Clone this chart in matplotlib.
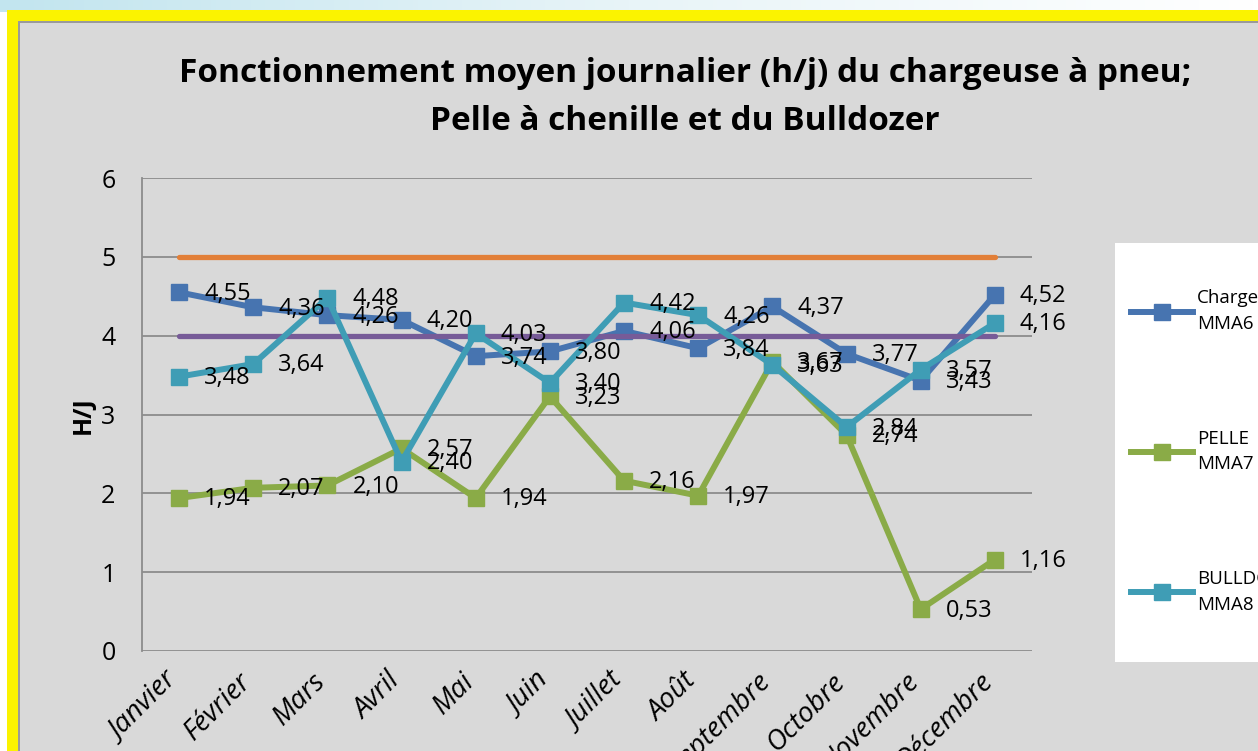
import numpy as np
import matplotlib
matplotlib.use("Agg")
import matplotlib.pyplot as plt
import matplotlib.transforms as mtransforms
from matplotlib.patches import Rectangle
from matplotlib.lines import Line2D

# data
months = ["Janvier", "Février", "Mars", "Avril", "Mai", "Juin", "Juillet",
          "Août", "Septembre", "Octobre", "Novembre", "Décembre"]
chargeuse = [4.55, 4.36, 4.26, 4.20, 3.74, 3.80, 4.06, 3.84, 4.37, 3.77, 3.43, 4.52]
pelle = [1.94, 2.07, 2.10, 2.57, 1.94, 3.23, 2.16, 1.97, 3.67, 2.74, 0.53, 1.16]
bulldozer = [3.48, 3.64, 4.48, 2.40, 4.03, 3.40, 4.42, 4.26, 3.63, 2.84, 3.57, 4.16]
ref_haut = [5] * 12
ref_bas = [4] * 12
series_names = ["Chargeuse\nMMA6", "PELLE\nMMA7", "BULLDOZER\nMMA8"]

plt.rcParams['font.family'] = ['Open Sans', 'DejaVu Sans']

W, H = 1258, 751
fig = plt.figure(figsize=(W / 100, H / 100), dpi=100)
fig.patch.set_facecolor('#ffffff')

def px(x0, y0, x1, y1):
    # rectangle in pixel coords (top-left origin) -> figure fraction
    return (x0 / W, 1 - y1 / H, (x1 - x0) / W, (y1 - y0) / H)

# top light-blue band with a gradient
band = fig.add_axes([0, 1 - 12 / H, 1, 12 / H])
grad = np.linspace(0, 1, 256)[None, :]
band.imshow(grad, aspect='auto', cmap=matplotlib.colors.LinearSegmentedColormap.from_list(
    'b', ['#c2e5ef', '#e8f4f8', '#ffffff']), extent=[0, 1, 0, 1])
band.axis('off')

# yellow frame and grey chart area
for rect, col in [(px(7, 10, W + 5, H + 5), '#fbf300'),
                  (px(18, 21, W + 5, H + 5), '#9a9a9a'),
                  (px(20, 23, W + 5, H + 5), '#d9d9d9')]:
    fig.patches.append(Rectangle(rect[:2], rect[2], rect[3], transform=fig.transFigure,
                                 facecolor=col, edgecolor='none', zorder=0))

# legend box (runs off the right edge like the screenshot)
lx = px(1115, 243, W + 20, 662)
fig.patches.append(Rectangle(lx[:2], lx[2], lx[3], transform=fig.transFigure,
                             facecolor='white', edgecolor='none', zorder=1))

ax = fig.add_axes([142 / W, 1 - 651 / H, (1032 - 142) / W, (651 - 178) / H])
ax.set_zorder(2)
ax.set_facecolor('none')
x = np.arange(len(months))

c_blue, c_green, c_teal = '#4774b0', '#8aab47', '#3f9db5'
c_orange, c_purple = '#e27f38', '#775b98'

ax.plot(x, chargeuse, color=c_blue, lw=4.3, marker='s', ms=11.5, zorder=3)
ax.plot(x, pelle, color=c_green, lw=4.3, marker='s', ms=11.5, zorder=3.1)
ax.plot(x, ref_haut, color=c_orange, lw=3.8, solid_capstyle='round', zorder=3.2)
ax.plot(x, ref_bas, color=c_purple, lw=3.8, solid_capstyle='round', zorder=3.2)
ax.plot(x, bulldozer, color=c_teal, lw=4.3, marker='s', ms=11.5, zorder=3.3)

for vals in (chargeuse, pelle, bulldozer):
    for i, v in enumerate(vals):
        ax.annotate(f"{v:.2f}".replace('.', ','), (i, v), xytext=(18, -1),
                    textcoords='offset points', ha='left', va='center',
                    fontsize=17, color='black', zorder=6)

ax.set_xlim(-0.5, 11.5)
ax.set_ylim(0, 6)
ax.set_yticks(range(7))
ax.yaxis.grid(True, color='#8c8c8c', lw=1.3)
ax.set_axisbelow(True)
for s in ('top', 'right', 'bottom'):
    ax.spines[s].set_visible(False)
ax.spines['left'].set_color('#8c8c8c')
ax.spines['left'].set_linewidth(1.3)
ax.tick_params(axis='y', length=0, pad=19, labelsize=18)
ax.tick_params(axis='x', length=0, pad=6)
ax.set_xticks(x)
ax.set_xticklabels(months, rotation=45, ha='right', va='top', rotation_mode='anchor',
                   fontsize=20, style='italic')
shift = mtransforms.ScaledTranslation(-11 / 72, -6 / 72, fig.dpi_scale_trans)
for lab in ax.get_xticklabels():
    lab.set_transform(lab.get_transform() + shift)

fig.text(685 / W, 1 - 97 / H,
         "Fonctionnement moyen journalier (h/j) du chargeuse à pneu;\nPelle à chenille et du Bulldozer",
         ha='center', va='center', fontsize=24, fontweight='bold', linespacing=1.6,
         zorder=3)
fig.text(83 / W, 1 - 415 / H, "H/J", rotation=90, ha='center', va='center',
         fontsize=18, fontweight='bold', zorder=3)

handles = [Line2D([], [], color=c, lw=4.3, marker='s', ms=11.5)
           for c in (c_blue, c_green, c_teal)]
leg = fig.legend(handles, series_names, loc='upper left',
                 bbox_to_anchor=(1122 / W, 1 - 280 / H),
                 frameon=False, fontsize=13.5, handlelength=3.3, handletextpad=0.2,
                 labelspacing=5.15, borderpad=0)
for t in leg.get_texts():
    t.set_linespacing(1.55)
leg.set_zorder(3)

fig.savefig("out.png", dpi=100)
